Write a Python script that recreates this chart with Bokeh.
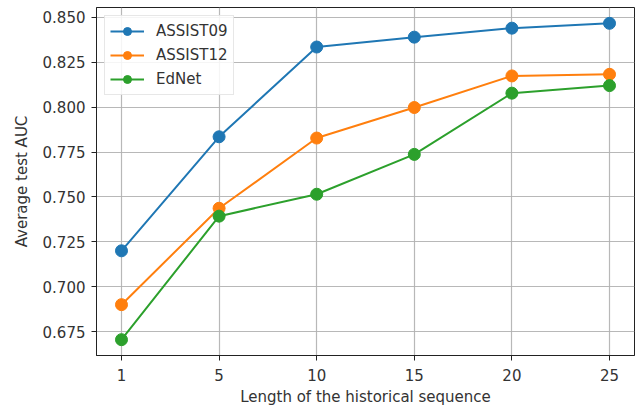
from bokeh.plotting import figure
from bokeh.models import Range1d, FixedTicker, Legend, LegendItem
from bokeh.embed import file_html
from bokeh.resources import INLINE

lengths = ["1", "5", "10", "15", "20", "25"]
assist09 = [0.720, 0.7835, 0.8335, 0.839, 0.844, 0.8467]
assist12 = [0.690, 0.7437, 0.7828, 0.7998, 0.8174, 0.8183]
ednet = [0.6705, 0.7393, 0.7515, 0.7737, 0.8078, 0.8120]
y_ticks = [0.675, 0.700, 0.725, 0.750, 0.775, 0.800, 0.825, 0.850]
y_tick_labels = ["0.675", "0.700", "0.725", "0.750", "0.775", "0.800", "0.825", "0.850"]

series = [("ASSIST09", assist09, "#1f77b4"),
          ("ASSIST12", assist12, "#ff7f0e"),
          ("EdNet", ednet, "#2ca02c")]

xs = list(range(len(lengths)))
all_vals = assist09 + assist12 + ednet
ymin, ymax = min(all_vals), max(all_vals)
ypad = (ymax - ymin) * 0.05
xpad = (len(lengths) - 1) * 0.05

FONT = "DejaVu Sans"

p = figure(width=639, height=408, output_backend="svg", toolbar_location=None,
           x_range=Range1d(-xpad - 0.006, len(lengths) - 1 + xpad + 0.006),
           y_range=Range1d(ymin - ypad, ymax + ypad),
           min_border_left=96, min_border_right=5, min_border_top=7, min_border_bottom=52)

p.outline_line_color = "#222222"
p.outline_line_width = 1
p.background_fill_color = "white"
p.border_fill_color = "white"

items = []
for name, vals, col in series:
    r1 = p.line(xs, vals, line_color=col, line_width=2)
    r2 = p.scatter(xs, vals, size=12, fill_color=col, line_color=col)
    items.append(LegendItem(label=name, renderers=[r1, r2]))

p.xaxis.ticker = FixedTicker(ticks=xs)
p.xaxis.major_label_overrides = {i: lab for i, lab in enumerate(lengths)}
p.yaxis.ticker = FixedTicker(ticks=y_ticks)
p.yaxis.major_label_overrides = {t: lab for t, lab in zip(y_ticks, y_tick_labels)}

for ax in (p.xaxis[0], p.yaxis[0]):
    ax.axis_line_color = "#222222"
    ax.major_tick_line_color = "#222222"
    ax.major_tick_in = 0
    ax.major_tick_out = 5
    ax.minor_tick_line_color = None
    ax.major_label_text_font = FONT
    ax.major_label_text_font_size = "15px"
    ax.major_label_text_color = "#333333"
    ax.axis_label_text_font = FONT
    ax.axis_label_text_font_size = "15px"
    ax.axis_label_text_font_style = "normal"
    ax.axis_label_text_color = "#333333"

p.xaxis.major_label_standoff = 8
p.yaxis.major_label_standoff = 6
p.xaxis.axis_label = "Length of the historical sequence"
p.yaxis.axis_label = "Average test AUC"
p.xaxis.axis_label_standoff = 4
p.yaxis.axis_label_standoff = 9

p.grid.grid_line_color = "#b0b0b0"
p.grid.grid_line_width = 1.2
p.grid.grid_line_alpha = 0.9

legend = Legend(items=items, location="top_left")
legend.margin = 8
legend.padding = 5
legend.spacing = 4
legend.glyph_width = 34
legend.glyph_height = 20
legend.label_height = 20
legend.label_standoff = 12
legend.label_text_font = FONT
legend.label_text_font_size = "15px"
legend.label_text_color = "#333333"
legend.border_line_color = "#d0d0d0"
legend.border_line_width = 1
legend.background_fill_color = "white"
legend.background_fill_alpha = 0.85
p.add_layout(legend)

open("out.html", "w").write(file_html(p, INLINE))
